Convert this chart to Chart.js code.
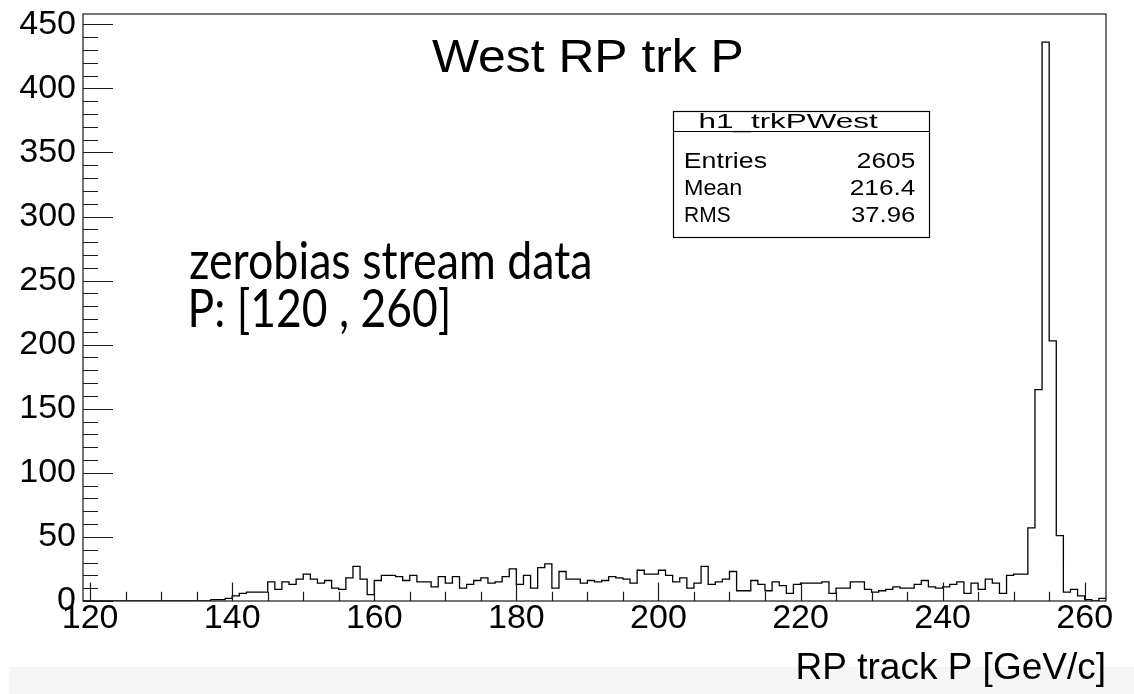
<!DOCTYPE html>
<html>
<head>
<meta charset="utf-8">
<script src="https://cdn.jsdelivr.net/npm/chart.js@4/dist/chart.umd.min.js"></script>
<style>
  html, body { margin: 0; padding: 0; background: #ffffff; }
  #wrap { width: 1134px; height: 694px; }
</style>
</head>
<body>
<div id="wrap"><canvas id="c" width="1134" height="694"></canvas></div>
<script>
// Histogram h1_trkPWest: West Roman Pot track momentum, 1 GeV/c bins
const histName = 'h1_trkPWest';
const histTitle = 'West RP trk P';
const xAxisTitle = 'RP track P [GeV/c]';
const noteLines = ['zerobias stream data', 'P: [120 , 260]'];
const statLabels = ['Entries', 'Mean', 'RMS'];
const statValues = ['2605', '216.4', '37.96'];

const xRange = [119, 263];
const binWidth = 1;
const firstBinLow = 119;
const yMax = 458;
const xMajorStep = 20, xMinorStep = 5;
const yMajorStep = 50, yMinorStep = 10;

// bin contents, starting at the bin [119,120)
const counts = [
  0, 0, 0, 0, 0, 0, 0, 0, 0, 0, 0, 0, 0, 0, 0, 0, 0, 0,
  1, 1, 2, 4, 6, 7, 7, 7,
  15, 9, 15, 13, 17, 21, 17, 14, 16, 10,
  9, 18, 27, 17, 5, 16, 20, 20, 19, 16,
  20, 15, 15, 11, 19, 14, 19, 10, 13, 16,
  18, 14, 15, 19, 25, 13, 20, 10, 26, 29,
  10, 23, 17, 17, 14, 16, 15, 16, 19, 18,
  17, 14, 24, 21, 21, 24, 20, 15, 18, 10,
  14, 27, 13, 15, 17, 23, 8, 8, 16, 13,
  8, 15, 12, 6, 13, 14, 14, 14, 15, 6,
  10, 10, 15, 15, 9, 7, 8, 9, 11, 10,
  10, 13, 16, 11, 10, 11, 13, 15, 6, 14,
  9, 17, 14, 6, 20, 21, 21,
  57, 165, 436, 203, 51, 7, 9, 4, 1, 0, 2
];

// step outline: one point per bin low edge, closing at the upper range edge
const outline = counts.map((c, i) => ({ x: firstBinLow + i * binWidth, y: c }));
outline.push({ x: xRange[1], y: 0 });

const ROOT_FONT = '"Liberation Sans", Arial, Helvetica, sans-serif';
const NOTE_FONT = 'Lato, "Open Sans", sans-serif';

// text drawn to a given ink width (horizontal scale only)
function fitText(ctx, text, x, y, opts) {
  ctx.save();
  ctx.font = opts.font;
  ctx.textBaseline = 'alphabetic';
  ctx.textAlign = 'left';
  const m = ctx.measureText(text);
  const ink = m.actualBoundingBoxLeft + m.actualBoundingBoxRight;
  const sx = opts.width ? opts.width / ink : 1;
  const w = ink * sx;
  let left = x;
  if (opts.align === 'center') left = x - w / 2;
  else if (opts.align === 'right') left = x - w;
  ctx.translate(left, y);
  ctx.scale(sx, 1);
  ctx.fillStyle = opts.color || '#000';
  ctx.fillText(text, m.actualBoundingBoxLeft, 0);
  ctx.restore();
}

function noAutoPadding(scale) {
  scale.paddingTop = 0;
  scale.paddingBottom = 0;
  scale.paddingLeft = 0;
  scale.paddingRight = 0;
}

const rootDecor = {
  id: 'rootDecor',
  beforeDraw(chart) {
    const ctx = chart.ctx;
    ctx.save();
    ctx.fillStyle = '#ffffff';
    ctx.fillRect(0, 0, chart.width, chart.height);
    ctx.fillStyle = '#f6f6f6';
    ctx.fillRect(9, 667, chart.width - 9, chart.height - 667);
    ctx.restore();
  },
  afterDatasetsDraw(chart) {
    const ctx = chart.ctx;
    const a = chart.chartArea;
    const xs = chart.scales.x, ys = chart.scales.y;
    ctx.save();
    // frame
    ctx.strokeStyle = '#1a1a1a';
    ctx.lineWidth = 1.2;
    ctx.strokeRect(a.left, a.top, a.right - a.left, a.bottom - a.top);
    // inward ticks on the x axis
    ctx.beginPath();
    for (let v = Math.ceil(xs.min / xMinorStep) * xMinorStep; v <= xs.max; v += xMinorStep) {
      const px = Math.round(xs.getPixelForValue(v)) + 0.5;
      const len = (v % xMajorStep === 0) ? 18.5 : 9.3;
      ctx.moveTo(px, a.bottom);
      ctx.lineTo(px, a.bottom - len);
    }
    // inward ticks on the y axis
    for (let v = 0; v <= ys.max; v += yMinorStep) {
      const py = Math.round(ys.getPixelForValue(v)) + 0.5;
      const len = (v % yMajorStep === 0) ? 30 : 15;
      ctx.moveTo(a.left, py);
      ctx.lineTo(a.left + len, py);
    }
    ctx.stroke();

    // histogram title
    fitText(ctx, histTitle, 587, 72, { font: '46px ' + ROOT_FONT, width: 310, align: 'center' });

    // statistics box
    const bx = 673, by = 111, bw = 256, bh = 126, hy = 131;
    ctx.fillStyle = '#ffffff';
    ctx.fillRect(bx, by, bw, bh);
    ctx.strokeStyle = '#000';
    ctx.lineWidth = 1.2;
    ctx.strokeRect(bx + 0.5, by + 0.5, bw, bh);
    ctx.beginPath();
    ctx.moveTo(bx, hy + 0.5);
    ctx.lineTo(bx + bw, hy + 0.5);
    ctx.stroke();
    fitText(ctx, histName, 789, 128, { font: '21px ' + ROOT_FONT, width: 178, align: 'center' });
    const rowY = [168, 195, 222];
    const labelW = [82, 56, 45];
    const valueW = [57, 64, 64];
    statLabels.forEach((s, i) => {
      fitText(ctx, s, 685, rowY[i], { font: '22px ' + ROOT_FONT, width: labelW[i] });
      fitText(ctx, statValues[i], 915, rowY[i], { font: '22px ' + ROOT_FONT, width: valueW[i], align: 'right' });
    });

    // annotation
    fitText(ctx, noteLines[0], 190, 279, { font: '52px ' + NOTE_FONT, width: 400 });
    fitText(ctx, noteLines[1], 191, 327, { font: '52px ' + NOTE_FONT, width: 257 });
    ctx.restore();
  }
};

new Chart(document.getElementById('c'), {
  type: 'line',
  data: {
    datasets: [{
      data: outline,
      stepped: true,
      borderColor: '#000000',
      borderWidth: 1.3,
      pointRadius: 0,
      fill: false,
      tension: 0
    }]
  },
  options: {
    responsive: false,
    animation: false,
    devicePixelRatio: 1,
    layout: { autoPadding: false, padding: { left: 0, top: 14, right: 28, bottom: 0 } },
    plugins: {
      legend: { display: false },
      tooltip: { enabled: false },
      title: { display: false }
    },
    scales: {
      x: {
        type: 'linear',
        min: xRange[0],
        max: xRange[1],
        grid: { display: false, drawTicks: false },
        border: { display: false },
        ticks: {
          stepSize: xMajorStep,
          includeBounds: false,
          autoSkip: false,
          maxRotation: 0,
          color: '#000',
          padding: 1,
          font: { family: ROOT_FONT, size: 34, lineHeight: 1 }
        },
        title: {
          display: true,
          text: xAxisTitle,
          align: 'end',
          color: '#000',
          font: { family: ROOT_FONT, size: 37, lineHeight: 1 },
          padding: { top: 0, bottom: 7 }
        },
        afterFit(scale) { scale.height = 93; noAutoPadding(scale); }
      },
      y: {
        min: 0,
        max: yMax,
        grid: { display: false, drawTicks: false },
        border: { display: false },
        ticks: {
          stepSize: yMajorStep,
          includeBounds: false,
          color: '#000',
          padding: 7,
          font: { family: ROOT_FONT, size: 34, lineHeight: 1 }
        },
        afterFit(scale) { scale.width = 83; noAutoPadding(scale); }
      }
    }
  },
  plugins: [rootDecor]
});
</script>
</body>
</html>
